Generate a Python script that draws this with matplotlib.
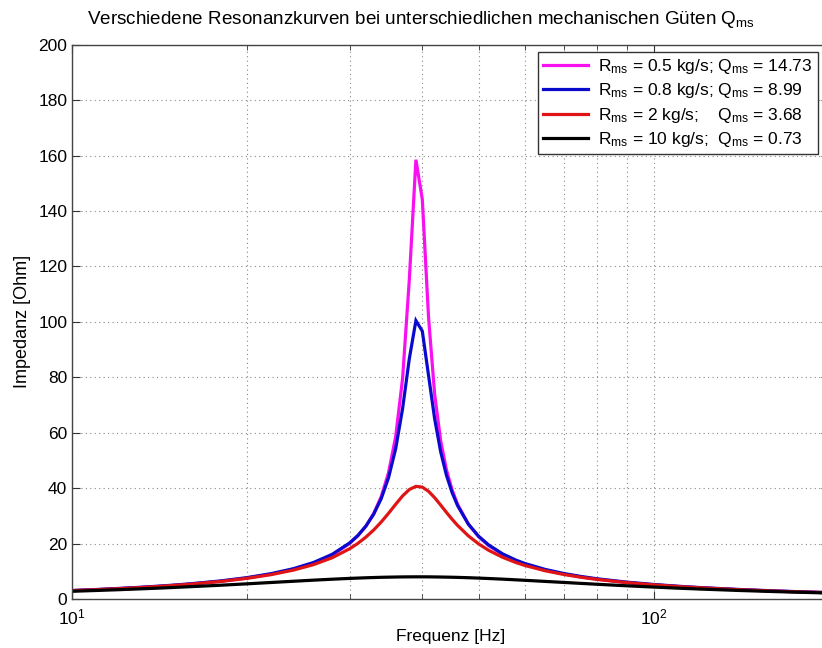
import matplotlib
matplotlib.use("Agg")
import matplotlib.pyplot as plt
from matplotlib import font_manager

# ---- data ----
freq = [10, 11, 12, 13, 14, 15, 16, 18, 20, 22, 24, 26, 28, 30, 31, 32, 33, 34, 35, 36,
        37, 38, 39, 40, 41, 42, 43, 44, 45, 46, 48, 50, 52, 55, 58, 60, 65, 70, 75, 80,
        90, 100, 110, 120, 140, 160, 180, 200]

z_rms05 = [3.00, 3.35, 3.72, 4.10, 4.50, 4.93, 5.38, 6.39, 7.57, 8.98, 10.72, 12.94, 15.89,
           20.03, 22.81, 26.30, 30.84, 36.95, 45.59, 58.58, 79.67, 115.4, 158.5, 144.2,
           101.6, 73.88, 57.29, 46.67, 39.39, 34.12, 27.02, 22.47, 19.31, 16.03, 13.77,
           12.62, 10.49, 9.03, 7.96, 7.14, 5.95, 5.12, 4.52, 4.05, 3.36, 2.88, 2.53, 2.25]

z_rms08 = [3.07, 3.42, 3.80, 4.19, 4.60, 5.03, 5.50, 6.52, 7.72, 9.16, 10.92, 13.16, 16.11,
           20.22, 22.94, 26.32, 30.62, 36.23, 43.80, 54.25, 68.72, 86.76, 100.45, 96.65,
           80.66, 65.05, 53.26, 44.71, 38.42, 33.66, 27.00, 22.61, 19.51, 16.25, 13.99,
           12.83, 10.69, 9.21, 8.12, 7.28, 6.07, 5.24, 4.61, 4.13, 3.44, 2.95, 2.59, 2.30]

z_rms2 = [3.00, 3.35, 3.71, 4.09, 4.49, 4.91, 5.35, 6.33, 7.47, 8.80, 10.41, 12.39, 14.89,
          18.12, 20.08, 22.34, 24.91, 27.79, 30.94, 34.18, 37.20, 39.51, 40.64, 40.36,
          38.85, 36.56, 33.92, 31.27, 28.78, 26.53, 22.77, 19.86, 17.58, 15.01, 13.12,
          12.11, 10.20, 8.85, 7.84, 7.05, 5.90, 5.10, 4.50, 4.04, 3.36, 2.88, 2.53, 2.26]

z_rms10 = [2.79, 3.07, 3.35, 3.63, 3.90, 4.18, 4.45, 4.97, 5.48, 5.96, 6.40, 6.80, 7.14,
           7.43, 7.55, 7.66, 7.75, 7.83, 7.88, 7.93, 7.97, 7.99, 8.00, 8.00, 7.99, 7.96,
           7.93, 7.89, 7.85, 7.80, 7.68, 7.54, 7.39, 7.16, 6.91, 6.75, 6.35, 5.98, 5.63,
           5.31, 4.76, 4.30, 3.91, 3.59, 3.08, 2.70, 2.40, 2.16]

labels = [r"R$_{ms}$ = 0.5 kg/s; Q$_{ms}$ = 14.73",
          r"R$_{ms}$ = 0.8 kg/s; Q$_{ms}$ = 8.99",
          r"R$_{ms}$ = 2 kg/s;    Q$_{ms}$ = 3.68",
          r"R$_{ms}$ = 10 kg/s;  Q$_{ms}$ = 0.73"]
series = [z_rms05, z_rms08, z_rms2, z_rms10]
colors = ["#f810f0", "#0a0acc", "#e01414", "#000000"]

title = r"Verschiedene Resonanzkurven bei unterschiedlichen mechanischen Güten Q$_{ms}$"
xlabel = "Frequenz [Hz]"
ylabel = "Impedanz [Ohm]"

# ---- style ----
names = {f.name for f in font_manager.fontManager.ttflist}
fam = [n for n in ["Liberation Sans", "DejaVu Sans"] if n in names]
plt.rcParams["font.family"] = fam
plt.rcParams["mathtext.default"] = "regular"

W, H = 822, 648
fig = plt.figure(figsize=(W / 100, H / 100), dpi=100)
left, right, top, bottom = 72, 829, 44.7, 599
ax = fig.add_axes([left / W, 1 - bottom / H, (right - left) / W, (bottom - top) / H])

for y, c, lab in zip(series, colors, labels):
    ax.plot(freq, y, color=c, lw=2.3, label=lab, solid_joinstyle="miter")

ax.set_xscale("log")
ax.set_xlim(10, 200)
ax.set_ylim(0, 200)
ax.set_yticks(range(0, 201, 20))
ax.grid(True, which="both", axis="x", color="#888888", ls=(0, (1, 3)), lw=0.8)
ax.grid(True, which="major", axis="y", color="#888888", ls=(0, (1, 3)), lw=0.8)
ax.tick_params(which="both", direction="in", top=True, right=True, labelsize=12.5,
               colors="#333333", labelcolor="black")
ax.tick_params(which="major", length=6)
ax.tick_params(which="minor", length=3.5)
ax.tick_params(axis="x", which="minor", labelbottom=False)
ax.tick_params(axis="x", which="major", pad=6)
for s in ax.spines.values():
    s.set_color("#444444")
    s.set_linewidth(1.0)

fig.text(421 / W, 1 - 20 / H, title, ha="center", va="center", fontsize=13.6)
ax.set_xlabel(xlabel, fontsize=12.5, labelpad=1)
ax.set_ylabel(ylabel, fontsize=13, labelpad=5)

leg = ax.legend(loc="upper right", bbox_to_anchor=(818 / W, 1 - 52 / H),
                bbox_transform=fig.transFigure, borderaxespad=0, fontsize=12.5,
                fancybox=False, framealpha=1, edgecolor="#333333", handlelength=2.6,
                handletextpad=0.6, labelspacing=0.3, borderpad=0.3)
leg.get_frame().set_linewidth(1.0)

fig.savefig("out.png", dpi=100)
